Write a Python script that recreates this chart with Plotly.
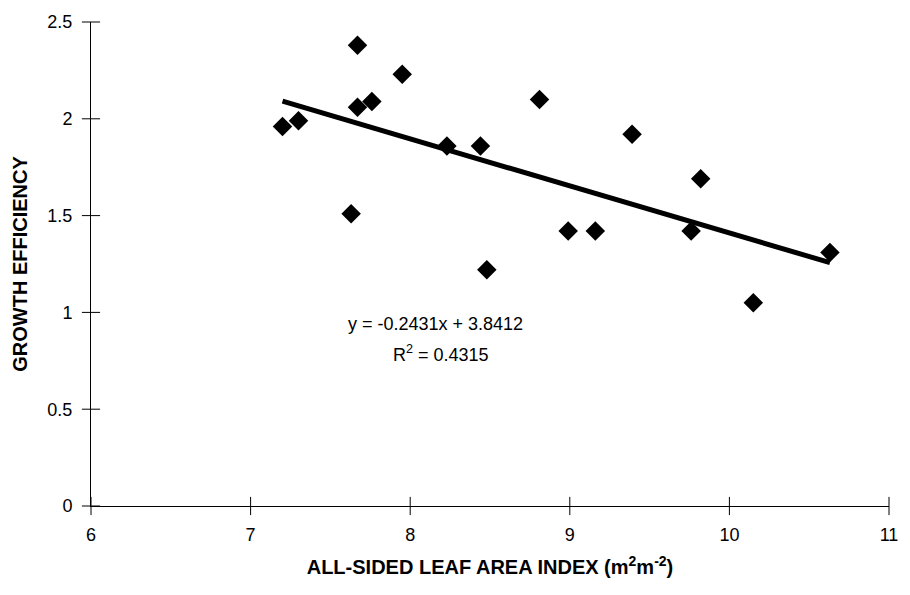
import plotly.graph_objects as go

# All-sided leaf area index (m2 m-2) and growth efficiency per stand
lai = [7.20, 7.30, 7.67, 7.67, 7.76, 7.95, 7.63, 8.23, 8.44, 8.81,
       9.39, 9.82, 8.99, 9.16, 9.76, 8.48, 10.63, 10.15]
growth_eff = [1.96, 1.99, 2.38, 2.06, 2.09, 2.23, 1.51, 1.86, 1.86, 2.10,
              1.92, 1.69, 1.42, 1.42, 1.42, 1.22, 1.31, 1.05]

# Linear regression as reported
slope = -0.2431
intercept = 3.8412
r_squared = 0.4315

x_ticks = [6, 7, 8, 9, 10, 11]
y_ticks = [0, 0.5, 1, 1.5, 2, 2.5]
x_range = [6, 11]
y_range = [0, 2.5]

fit_x = [min(lai), max(lai)]
fit_y = [slope * v + intercept for v in fit_x]

font_family = "Liberation Sans, Arial, Helvetica, sans-serif"

fig = go.Figure()

# Regression line
fig.add_trace(go.Scatter(
    x=fit_x, y=fit_y, mode="lines",
    line=dict(color="black", width=5),
    showlegend=False, hoverinfo="skip",
))

# Observations
fig.add_trace(go.Scatter(
    x=lai, y=growth_eff, mode="markers",
    marker=dict(symbol="diamond", size=15, color="black"),
    showlegend=False,
))

# Tick marks that cross the axis lines
tick_mark = dict(size=13, line=dict(width=1, color="black"))
fig.add_trace(go.Scatter(
    x=x_ticks, y=[y_range[0]] * len(x_ticks), mode="markers",
    marker=dict(symbol="line-ns", **tick_mark),
    cliponaxis=False, showlegend=False, hoverinfo="skip",
))
fig.add_trace(go.Scatter(
    x=[x_range[0]] * len(y_ticks), y=y_ticks, mode="markers",
    marker=dict(symbol="line-ew", **tick_mark),
    cliponaxis=False, showlegend=False, hoverinfo="skip",
))

axis_common = dict(showgrid=False, zeroline=False, showline=True,
                   linecolor="black", linewidth=1, ticks="",
                   tickfont=dict(size=18))

fig.update_layout(
    width=910, height=595,
    margin=dict(l=91, r=15, t=19, b=89),
    paper_bgcolor="white", plot_bgcolor="white",
    font=dict(family=font_family, size=18, color="black"),
    xaxis=dict(range=x_range, tickvals=x_ticks, ticklabelstandoff=12,
               title=dict(text="<b>ALL-SIDED LEAF AREA INDEX (m<sup>2</sup>m<sup>-2</sup>)</b>",
                          font=dict(size=20), standoff=16),
               **axis_common),
    yaxis=dict(range=y_range, tickvals=y_ticks, ticklabelstandoff=14,
               title=dict(text="<b>GROWTH EFFICIENCY</b>", font=dict(size=20), standoff=14),
               **axis_common),
    annotations=[
        dict(x=8.16, y=0.94, xref="x", yref="y",
             text=f"y = {slope:.4f}x + {intercept:.4f}", showarrow=False,
             font=dict(size=18), xanchor="center", yanchor="middle"),
        dict(x=8.19, y=0.79, xref="x", yref="y",
             text=f"R<sup>2</sup> = {r_squared:.4f}", showarrow=False,
             font=dict(size=18), xanchor="center", yanchor="middle"),
    ],
)

fig.write_html("out.html")
